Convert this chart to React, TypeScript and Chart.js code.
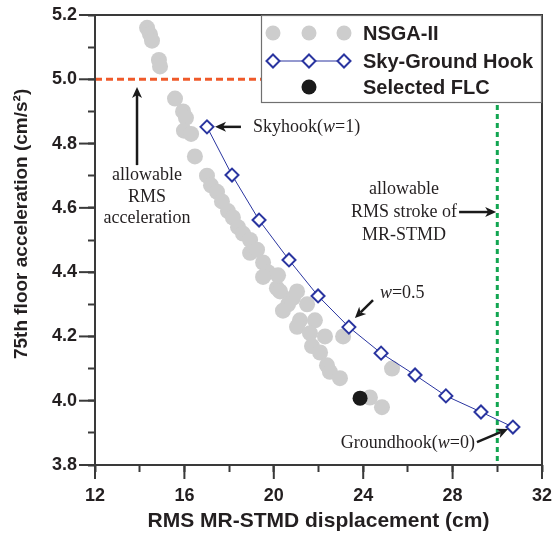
import React, { useEffect, useRef } from 'react';
import { Chart, registerables } from 'chart.js';

Chart.register(...registerables);

// NSGA-II Pareto solutions (RMS MR-STMD displacement in cm, 75th floor acceleration in cm/s²)
const nsgaDisp = [
  14.33, 14.46, 14.55, 14.86, 14.91, 15.58, 15.94, 16.07, 15.98, 16.3, 16.47, 17.01, 17.19, 17.46,
  17.68, 17.95, 18.17, 18.4, 18.62, 18.94, 18.94, 19.25, 19.52, 19.74, 20.19, 19.52, 20.14, 20.28,
  20.86, 21.04, 20.64, 21.49, 20.41, 21.17, 21.84, 21.04, 21.62, 22.29, 23.1, 21.71, 22.07, 22.38,
  22.51, 22.96, 24.3, 24.84, 25.29,
];
const nsgaAcc = [
  5.16, 5.14, 5.12, 5.06, 5.04, 4.94, 4.9, 4.88, 4.84, 4.83, 4.76, 4.7, 4.67, 4.65, 4.62, 4.59,
  4.57, 4.54, 4.52, 4.5, 4.46, 4.47, 4.43, 4.4, 4.39, 4.385, 4.35, 4.34, 4.32, 4.34, 4.3, 4.3, 4.28,
  4.25, 4.25, 4.23, 4.21, 4.2, 4.2, 4.17, 4.15, 4.11, 4.09, 4.07, 4.01, 3.98, 4.1,
];

// Sky-ground hook control, weight w from 1 (skyhook) down to 0 (groundhook)
const hookWeights = [1, 0.9, 0.8, 0.7, 0.6, 0.5, 0.4, 0.3, 0.2, 0.1, 0];
const hookDisp = [17.01, 18.13, 19.34, 20.68, 21.98, 23.36, 24.8, 26.32, 27.7, 29.27, 30.7];
const hookAcc = [4.852, 4.702, 4.562, 4.438, 4.326, 4.229, 4.148, 4.08, 4.015, 3.965, 3.918];

// Selected fuzzy logic controller
const selectedDisp = [23.86];
const selectedAcc = [4.008];

// Limits
const allowableAcc = 5.0;
const allowableStroke = 30;

// Axes
const xMin = 12;
const xMax = 32;
const xMajorTicks = [12, 16, 20, 24, 28, 32];
const yMin = 3.8;
const yMax = 5.2;
const yMajorTicks = [3.8, 4.0, 4.2, 4.4, 4.6, 4.8, 5.0, 5.2];
const xTitle = 'RMS MR-STMD displacement (cm)';
const yTitle = '75th floor acceleration (cm/s²)';
const yTitleCenter = 4.55; // value the vertical title is centred on

const legendLabels = ['NSGA-II', 'Sky-Ground Hook', 'Selected FLC'];

const SANS = '"Liberation Sans", Arial, sans-serif';
const SERIF = '"Liberation Serif", "Times New Roman", serif';
const TEXT = '#231f20';
const AXIS = '#3a3a3a';
const GREY = '#cdcdcd';
const BLUE = '#2a35a0';
const RED = '#ef5a2a';
const GREEN = '#12a551';

type Part = [string, boolean];

function drawRich(
  ctx: CanvasRenderingContext2D,
  parts: Part[],
  x: number,
  y: number,
  align: 'left' | 'center' | 'right',
  size: number
) {
  const fonts = parts.map(([, it]) => `${it ? 'italic ' : ''}${size}px ${SERIF}`);
  const widths = parts.map(([t], i) => {
    ctx.font = fonts[i];
    return ctx.measureText(t).width;
  });
  const total = widths.reduce((s, w) => s + w, 0);
  let cx = align === 'left' ? x : align === 'center' ? x - total / 2 : x - total;
  ctx.textAlign = 'left';
  ctx.textBaseline = 'middle';
  ctx.fillStyle = TEXT;
  parts.forEach(([t], i) => {
    ctx.font = fonts[i];
    ctx.fillText(t, cx, y);
    cx += widths[i];
  });
}

function drawArrow(ctx: CanvasRenderingContext2D, x1: number, y1: number, x2: number, y2: number) {
  const ang = Math.atan2(y2 - y1, x2 - x1);
  const c = Math.cos(ang);
  const s = Math.sin(ang);
  const hl = 11;
  const hw = 5;
  const bx = x2 - hl * c;
  const by = y2 - hl * s;
  ctx.strokeStyle = '#1a1a1a';
  ctx.fillStyle = '#1a1a1a';
  ctx.lineWidth = 2.5;
  ctx.setLineDash([]);
  ctx.beginPath();
  ctx.moveTo(x1, y1);
  ctx.lineTo(x2 - (hl - 3) * c, y2 - (hl - 3) * s);
  ctx.stroke();
  ctx.beginPath();
  ctx.moveTo(x2, y2);
  ctx.lineTo(bx - hw * s, by + hw * c);
  ctx.lineTo(x2 - (hl - 3) * c, y2 - (hl - 3) * s);
  ctx.lineTo(bx + hw * s, by - hw * c);
  ctx.closePath();
  ctx.fill();
}

function diamond(ctx: CanvasRenderingContext2D, x: number, y: number, r: number) {
  ctx.beginPath();
  ctx.moveTo(x, y - r);
  ctx.lineTo(x + r, y);
  ctx.lineTo(x, y + r);
  ctx.lineTo(x - r, y);
  ctx.closePath();
  ctx.fillStyle = '#ffffff';
  ctx.fill();
  ctx.strokeStyle = BLUE;
  ctx.lineWidth = 2;
  ctx.stroke();
}

// Legend box placement (pixels, relative to the plot area's top-right corner)
const LEGEND_W = 281;
const LEGEND_H = 88;

const overlayPlugin = {
  id: 'overlay',
  beforeDatasetsDraw(chart: any) {
    const { ctx, chartArea: a, scales } = chart;
    const x = scales.x;
    const y = scales.y;
    const legendLeft = a.right - LEGEND_W;
    const legendBottom = a.top + LEGEND_H;
    ctx.save();
    ctx.lineWidth = 3;
    // allowable acceleration
    ctx.strokeStyle = RED;
    ctx.setLineDash([7, 4]);
    const ya = y.getPixelForValue(allowableAcc);
    ctx.beginPath();
    ctx.moveTo(a.left, ya);
    ctx.lineTo(legendLeft, ya);
    ctx.stroke();
    // allowable stroke
    ctx.strokeStyle = GREEN;
    ctx.setLineDash([5, 4]);
    const xs = x.getPixelForValue(allowableStroke);
    ctx.beginPath();
    ctx.moveTo(xs, legendBottom + 2);
    ctx.lineTo(xs, a.bottom);
    ctx.stroke();
    ctx.restore();
  },
  afterDraw(chart: any) {
    const { ctx, chartArea: a, scales } = chart;
    const x = scales.x;
    const y = scales.y;
    const px = (v: number) => x.getPixelForValue(v);
    const py = (v: number) => y.getPixelForValue(v);
    ctx.save();

    // frame
    ctx.setLineDash([]);
    ctx.strokeStyle = AXIS;
    ctx.lineWidth = 2;
    ctx.strokeRect(a.left, a.top, a.right - a.left, a.bottom - a.top);

    // longer major ticks
    yMajorTicks.forEach((v) => {
      const yy = py(v);
      ctx.beginPath();
      ctx.moveTo(a.left - 16, yy);
      ctx.lineTo(a.left, yy);
      ctx.stroke();
    });
    xMajorTicks.forEach((v) => {
      const xx = px(v);
      ctx.beginPath();
      ctx.moveTo(xx, a.bottom);
      ctx.lineTo(xx, a.bottom + 14);
      ctx.stroke();
    });

    // vertical axis title
    ctx.save();
    ctx.translate(22, py(yTitleCenter));
    ctx.rotate(-Math.PI / 2);
    ctx.fillStyle = TEXT;
    ctx.font = `bold 19px ${SANS}`;
    ctx.textAlign = 'center';
    ctx.textBaseline = 'middle';
    ctx.fillText(yTitle, 0, 0);
    ctx.restore();

    // legend
    const lx = a.right - LEGEND_W;
    const ly = a.top;
    ctx.fillStyle = '#ffffff';
    ctx.fillRect(lx, ly, LEGEND_W, LEGEND_H);
    ctx.strokeStyle = '#707070';
    ctx.lineWidth = 1.2;
    ctx.strokeRect(lx + 0.5, ly + 0.5, LEGEND_W - 1, LEGEND_H - 1);
    const mx = [lx + 12, lx + 48, lx + 83];
    const rows = [ly + 18, ly + 46, ly + 72];
    ctx.fillStyle = GREY;
    mx.forEach((m) => {
      ctx.beginPath();
      ctx.arc(m, rows[0], 7.5, 0, Math.PI * 2);
      ctx.fill();
    });
    ctx.strokeStyle = BLUE;
    ctx.lineWidth = 1;
    ctx.beginPath();
    ctx.moveTo(mx[0], rows[1]);
    ctx.lineTo(mx[2], rows[1]);
    ctx.stroke();
    mx.forEach((m) => diamond(ctx, m, rows[1], 6.5));
    ctx.fillStyle = '#1a1a1a';
    ctx.beginPath();
    ctx.arc(mx[1], rows[2], 7.5, 0, Math.PI * 2);
    ctx.fill();
    ctx.fillStyle = TEXT;
    ctx.font = `bold 20px ${SANS}`;
    ctx.textAlign = 'left';
    ctx.textBaseline = 'middle';
    legendLabels.forEach((t, i) => ctx.fillText(t, lx + 102, rows[i] + 1));

    // annotations
    const fs = 18;
    drawArrow(ctx, px(13.88), py(4.733), px(13.88), py(4.976));
    drawRich(ctx, [['allowable', false]], px(14.33), py(4.702), 'center', fs);
    drawRich(ctx, [['RMS', false]], px(14.33), py(4.634), 'center', fs);
    drawRich(ctx, [['acceleration', false]], px(14.33), py(4.568), 'center', fs);

    drawArrow(ctx, px(18.53), py(4.852), px(17.37), py(4.852));
    drawRich(ctx, [['Skyhook(', false], ['w', true], ['=1)', false]], px(19.07), py(4.852), 'left', fs);

    drawRich(ctx, [['allowable', false]], px(25.83), py(4.659), 'center', fs);
    drawRich(ctx, [['RMS stroke of', false]], px(25.83), py(4.587), 'center', fs);
    drawRich(ctx, [['MR-STMD', false]], px(25.83), py(4.516), 'center', fs);
    drawArrow(ctx, px(28.29), py(4.587), px(29.95), py(4.587));

    drawArrow(ctx, px(24.44), py(4.313), px(23.63), py(4.257));
    drawRich(ctx, [['w', true], ['=0.5', false]], px(24.75), py(4.335), 'left', fs);

    drawArrow(ctx, px(29.09), py(3.871), px(30.48), py(3.912));
    drawRich(ctx, [['Groundhook(', false], ['w', true], ['=0)', false]], px(29.0), py(3.868), 'right', fs);

    ctx.restore();
  },
};

export default function App() {
  const canvasRef = useRef<HTMLCanvasElement | null>(null);

  useEffect(() => {
    const canvas = canvasRef.current;
    if (!canvas) return;
    const chart = new Chart(canvas, {
      type: 'scatter',
      data: {
        datasets: [
          {
            label: legendLabels[2],
            data: selectedDisp.map((d, i) => ({ x: d, y: selectedAcc[i] })),
            pointRadius: 7.5,
            pointHoverRadius: 7.5,
            backgroundColor: '#1a1a1a',
            borderWidth: 0,
            order: 1,
          },
          {
            label: legendLabels[1],
            data: hookDisp.map((d, i) => ({ x: d, y: hookAcc[i], w: hookWeights[i] })),
            showLine: true,
            borderColor: BLUE,
            borderWidth: 1,
            pointStyle: 'rectRot',
            pointRadius: 6.5,
            pointHoverRadius: 6.5,
            pointBackgroundColor: '#ffffff',
            pointBorderColor: BLUE,
            pointBorderWidth: 2,
            order: 2,
          },
          {
            label: legendLabels[0],
            data: nsgaDisp.map((d, i) => ({ x: d, y: nsgaAcc[i] })),
            pointRadius: 8,
            pointHoverRadius: 8,
            backgroundColor: GREY,
            borderWidth: 0,
            order: 3,
          },
        ],
      },
      options: {
        animation: false,
        responsive: false,
        devicePixelRatio: 1,
        layout: { padding: { left: 0, right: 11, top: 15, bottom: 0 } },
        plugins: {
          legend: { display: false },
          tooltip: { enabled: false },
        },
        scales: {
          x: {
            type: 'linear',
            min: xMin,
            max: xMax,
            afterFit: (s: any) => {
              s.height = 71;
              s.paddingLeft = 0;
              s.paddingRight = 0;
            },
            ticks: {
              stepSize: 2,
              autoSkip: false,
              maxRotation: 0,
              padding: 13,
              color: TEXT,
              font: { family: SANS, size: 18, weight: 'bold' },
              callback: (v: any) => (Number(v) % 4 === 0 ? String(v) : ''),
            },
            grid: { drawOnChartArea: false, tickLength: 7, tickWidth: 2, tickColor: AXIS },
            border: { display: false },
            title: {
              display: true,
              text: xTitle,
              color: TEXT,
              font: { family: SANS, size: 21, weight: 'bold' },
              padding: { top: 0, bottom: 2 },
            },
          },
          y: {
            type: 'linear',
            min: yMin,
            max: yMax,
            afterFit: (s: any) => {
              s.width = 95;
              s.paddingTop = 0;
              s.paddingBottom = 0;
            },
            ticks: {
              stepSize: 0.1,
              autoSkip: false,
              padding: 11,
              color: TEXT,
              font: { family: SANS, size: 18, weight: 'bold' },
              callback: (v: any) =>
                Math.round(Number(v) * 10) % 2 === 0 ? Number(v).toFixed(1) : '',
            },
            grid: { drawOnChartArea: false, tickLength: 7, tickWidth: 2, tickColor: AXIS },
            border: { display: false },
            title: { display: false },
          },
        },
      },
      plugins: [overlayPlugin],
    });
    return () => chart.destroy();
  }, []);

  return (
    <div style={{ position: 'absolute', left: 0, top: 0, width: 553, height: 536, background: '#fff' }}>
      <canvas ref={canvasRef} width={553} height={536} />
    </div>
  );
}
